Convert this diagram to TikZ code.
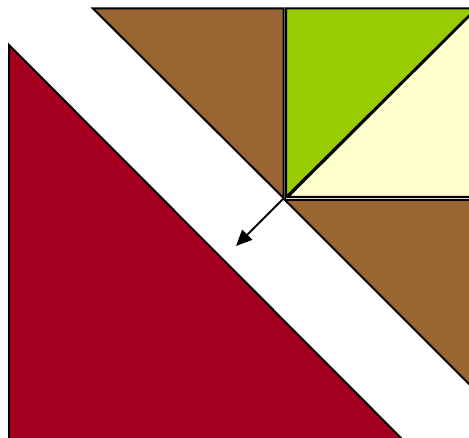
\documentclass[tikz,border=0pt]{standalone}
\usetikzlibrary{arrows.meta}
\definecolor{redc}{HTML}{A50021}
\definecolor{brownc}{HTML}{996633}
\definecolor{greenc}{HTML}{99CC00}
\definecolor{yellowc}{HTML}{FFFFCC}
\tikzset{piece/.style={draw=black,line width=2pt,line join=miter}}
\begin{document}
\begin{tikzpicture}[x=1pt,y=-1pt]
\useasboundingbox (0,0) rectangle (469,438);
\clip (0,0) rectangle (469,438);
% red triangle
\fill[redc] (9,45) -- (9,442) -- (405,442) -- cycle;
\draw[piece] (9,442) -- (9,45) -- (405,442);
% top-left brown
\filldraw[piece,fill=brownc] (93,8.5) -- (283.5,8.5) -- (283.5,198) -- cycle;
% green
\filldraw[piece,fill=greenc] (286,8.5) -- (476,8.5) -- (286,197) -- cycle;
% light yellow
\filldraw[piece,fill=yellowc] (288,197) -- (476,9.5) -- (476,197) -- cycle;
% bottom-right brown
\filldraw[piece,fill=brownc] (285,200) -- (476,200) -- (476,391) -- cycle;
% arrow
\coordinate (c) at (284,198);
\coordinate (t) at (236,246);
\draw[line width=1.8pt,-{Triangle[length=16pt,width=14pt]}] (c) -- (t);
\end{tikzpicture}
\end{document}
